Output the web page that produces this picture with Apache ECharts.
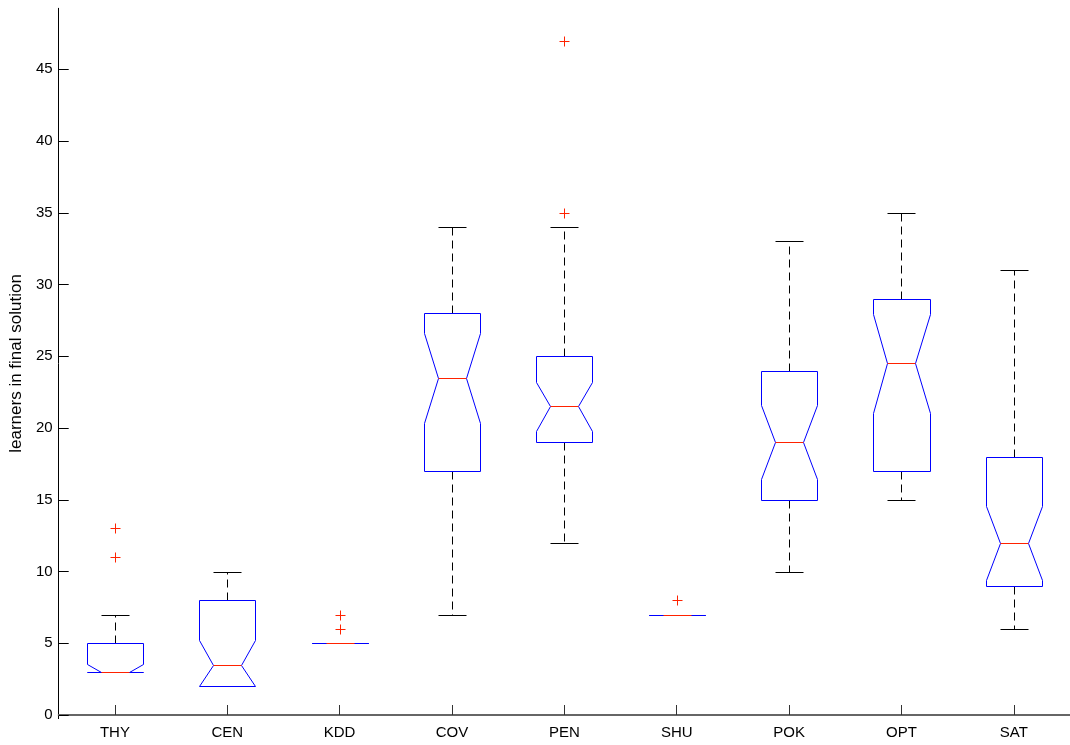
<!DOCTYPE html>
<html>
<head>
<meta charset="utf-8">
<script src="https://cdn.jsdelivr.net/npm/echarts@6/dist/echarts.min.js"></script>
<style>html,body{margin:0;padding:0;background:#fff;}#c{width:1070px;height:745px;}</style>
</head>
<body>
<div id="c"></div>
<script>
const categories = ['THY','CEN','KDD','COV','PEN','SHU','POK','OPT','SAT'];
const whiskerLow  = [3, 2, 5, 7, 12, 7, 10, 15, 6];
const q1          = [3, 2, 5, 17, 19, 7, 15, 17, 9];
const median      = [3, 3.5, 5, 23.5, 21.5, 7, 19, 24.5, 12];
const q3          = [5, 8, 5, 28, 25, 7, 24, 29, 18];
const whiskerHigh = [7, 10, 5, 34, 34, 7, 33, 35, 31];
const notchLow    = [2.43, 1.78, 5, 20.35, 19.78, 7, 16.42, 21.06, 9.42];
const notchHigh   = [3.57, 5.22, 5, 26.65, 23.22, 7, 21.58, 27.94, 14.58];
const outlierCat  = [0, 0, 2, 2, 4, 4, 5];
const outlierVal  = [11, 13, 6, 7, 35, 47, 8];
const yTicks      = [0, 5, 10, 15, 20, 25, 30, 35, 40, 45];

const boxData = categories.map((c, i) => [i, whiskerLow[i], q1[i], median[i], q3[i], whiskerHigh[i], notchLow[i], notchHigh[i]]);
const medData = categories.map((c, i) => [i, median[i]]);
const outData = outlierCat.map((c, i) => [c, outlierVal[i]]);

const BLUE = '#0000ff', RED = '#ff2200', BLACK = '#000000';
const FONT = 'Liberation Sans, Arial, Helvetica, sans-serif';
const r = v => Math.round(v) + 0.5;

const chart = echarts.init(document.getElementById('c'), null, {renderer: 'canvas'});
chart.setOption({
  animation: false,
  backgroundColor: '#ffffff',
  grid: {left: 58.7, right: -4.8, top: 8.3, bottom: 26.4, containLabel: false},
  xAxis: {
    type: 'category',
    data: categories,
    boundaryGap: true,
    axisLine: {lineStyle: {color: '#666666', width: 2}},
    axisTick: {show: true, inside: true, length: 10, alignWithLabel: true, lineStyle: {color: '#333333'}},
    axisLabel: {color: '#000', fontFamily: FONT, fontSize: 15, margin: 7},
    splitLine: {show: false}
  },
  yAxis: {
    type: 'value',
    min: -0.25,
    max: 49.25,
    name: 'learners in final solution',
    nameLocation: 'middle',
    nameGap: 25,
    nameTextStyle: {color: '#000', fontFamily: FONT, fontSize: 17},
    axisLine: {show: true, lineStyle: {color: BLACK, width: 1}},
    axisTick: {show: true, inside: true, length: 10, customValues: yTicks, lineStyle: {color: BLACK}},
    axisLabel: {color: '#000', fontFamily: FONT, fontSize: 15, margin: 6, customValues: yTicks},
    splitLine: {show: false}
  },
  series: [
    {
      type: 'custom',
      z: 2,
      data: boxData,
      encode: {x: 0, y: [1,2,3,4,5,6,7]},
      clip: false,
      renderItem: function (params, api) {
        const i = api.value(0);
        const wl = api.value(1), lq = api.value(2), med = api.value(3), uq = api.value(4), wh = api.value(5);
        const nlo = Math.max(api.value(6), lq), nhi = Math.min(api.value(7), uq);
        const band = api.size([1, 0])[0];
        const cx = api.coord([i, med])[0];
        const y = v => r(api.coord([i, v])[1]);
        const hw = band * 0.25, nw = band * 0.125, cw = band * 0.125;
        const L = r(cx - hw), R = r(cx + hw), NL = r(cx - hw + nw), NR = r(cx + hw - nw), C = r(cx);
        const children = [];
        const wdash = [8, 5];
        if (wh > uq) {
          children.push({type: 'line', shape: {x1: C, y1: y(uq), x2: C, y2: y(wh)}, style: {stroke: BLACK, lineWidth: 1, lineDash: wdash}});
          children.push({type: 'line', shape: {x1: r(cx - cw), y1: y(wh), x2: r(cx + cw), y2: y(wh)}, style: {stroke: BLACK, lineWidth: 1}});
        }
        if (wl < lq) {
          children.push({type: 'line', shape: {x1: C, y1: y(lq), x2: C, y2: y(wl)}, style: {stroke: BLACK, lineWidth: 1, lineDash: wdash}});
          children.push({type: 'line', shape: {x1: r(cx - cw), y1: y(wl), x2: r(cx + cw), y2: y(wl)}, style: {stroke: BLACK, lineWidth: 1}});
        }
        const pts = [
          [L, y(lq)], [L, y(nlo)], [NL, y(med)], [L, y(nhi)], [L, y(uq)],
          [R, y(uq)], [R, y(nhi)], [NR, y(med)], [R, y(nlo)], [R, y(lq)]
        ];
        children.push({type: 'polygon', shape: {points: pts}, style: {fill: 'none', stroke: BLUE, lineWidth: 1}});
        return {type: 'group', children: children};
      }
    },
    {
      type: 'custom',
      z: 5,
      data: medData,
      encode: {x: 0, y: 1},
      clip: false,
      renderItem: function (params, api) {
        const p = api.coord([api.value(0), api.value(1)]);
        const band = api.size([1, 0])[0];
        const yy = r(p[1]);
        return {type: 'line', shape: {x1: r(p[0] - band * 0.125), y1: yy, x2: r(p[0] + band * 0.125), y2: yy}, style: {stroke: RED, lineWidth: 1}};
      }
    },
    {
      type: 'custom',
      z: 5,
      data: outData,
      encode: {x: 0, y: 1},
      clip: false,
      renderItem: function (params, api) {
        const p = api.coord([api.value(0), api.value(1)]);
        const x = r(p[0]), yy = r(p[1]), h = 5;
        return {type: 'group', children: [
          {type: 'line', shape: {x1: x - h, y1: yy, x2: x + h, y2: yy}, style: {stroke: RED, lineWidth: 1}},
          {type: 'line', shape: {x1: x, y1: yy - h, x2: x, y2: yy + h}, style: {stroke: RED, lineWidth: 1}}
        ]};
      }
    }
  ]
});
</script>
</body>
</html>
